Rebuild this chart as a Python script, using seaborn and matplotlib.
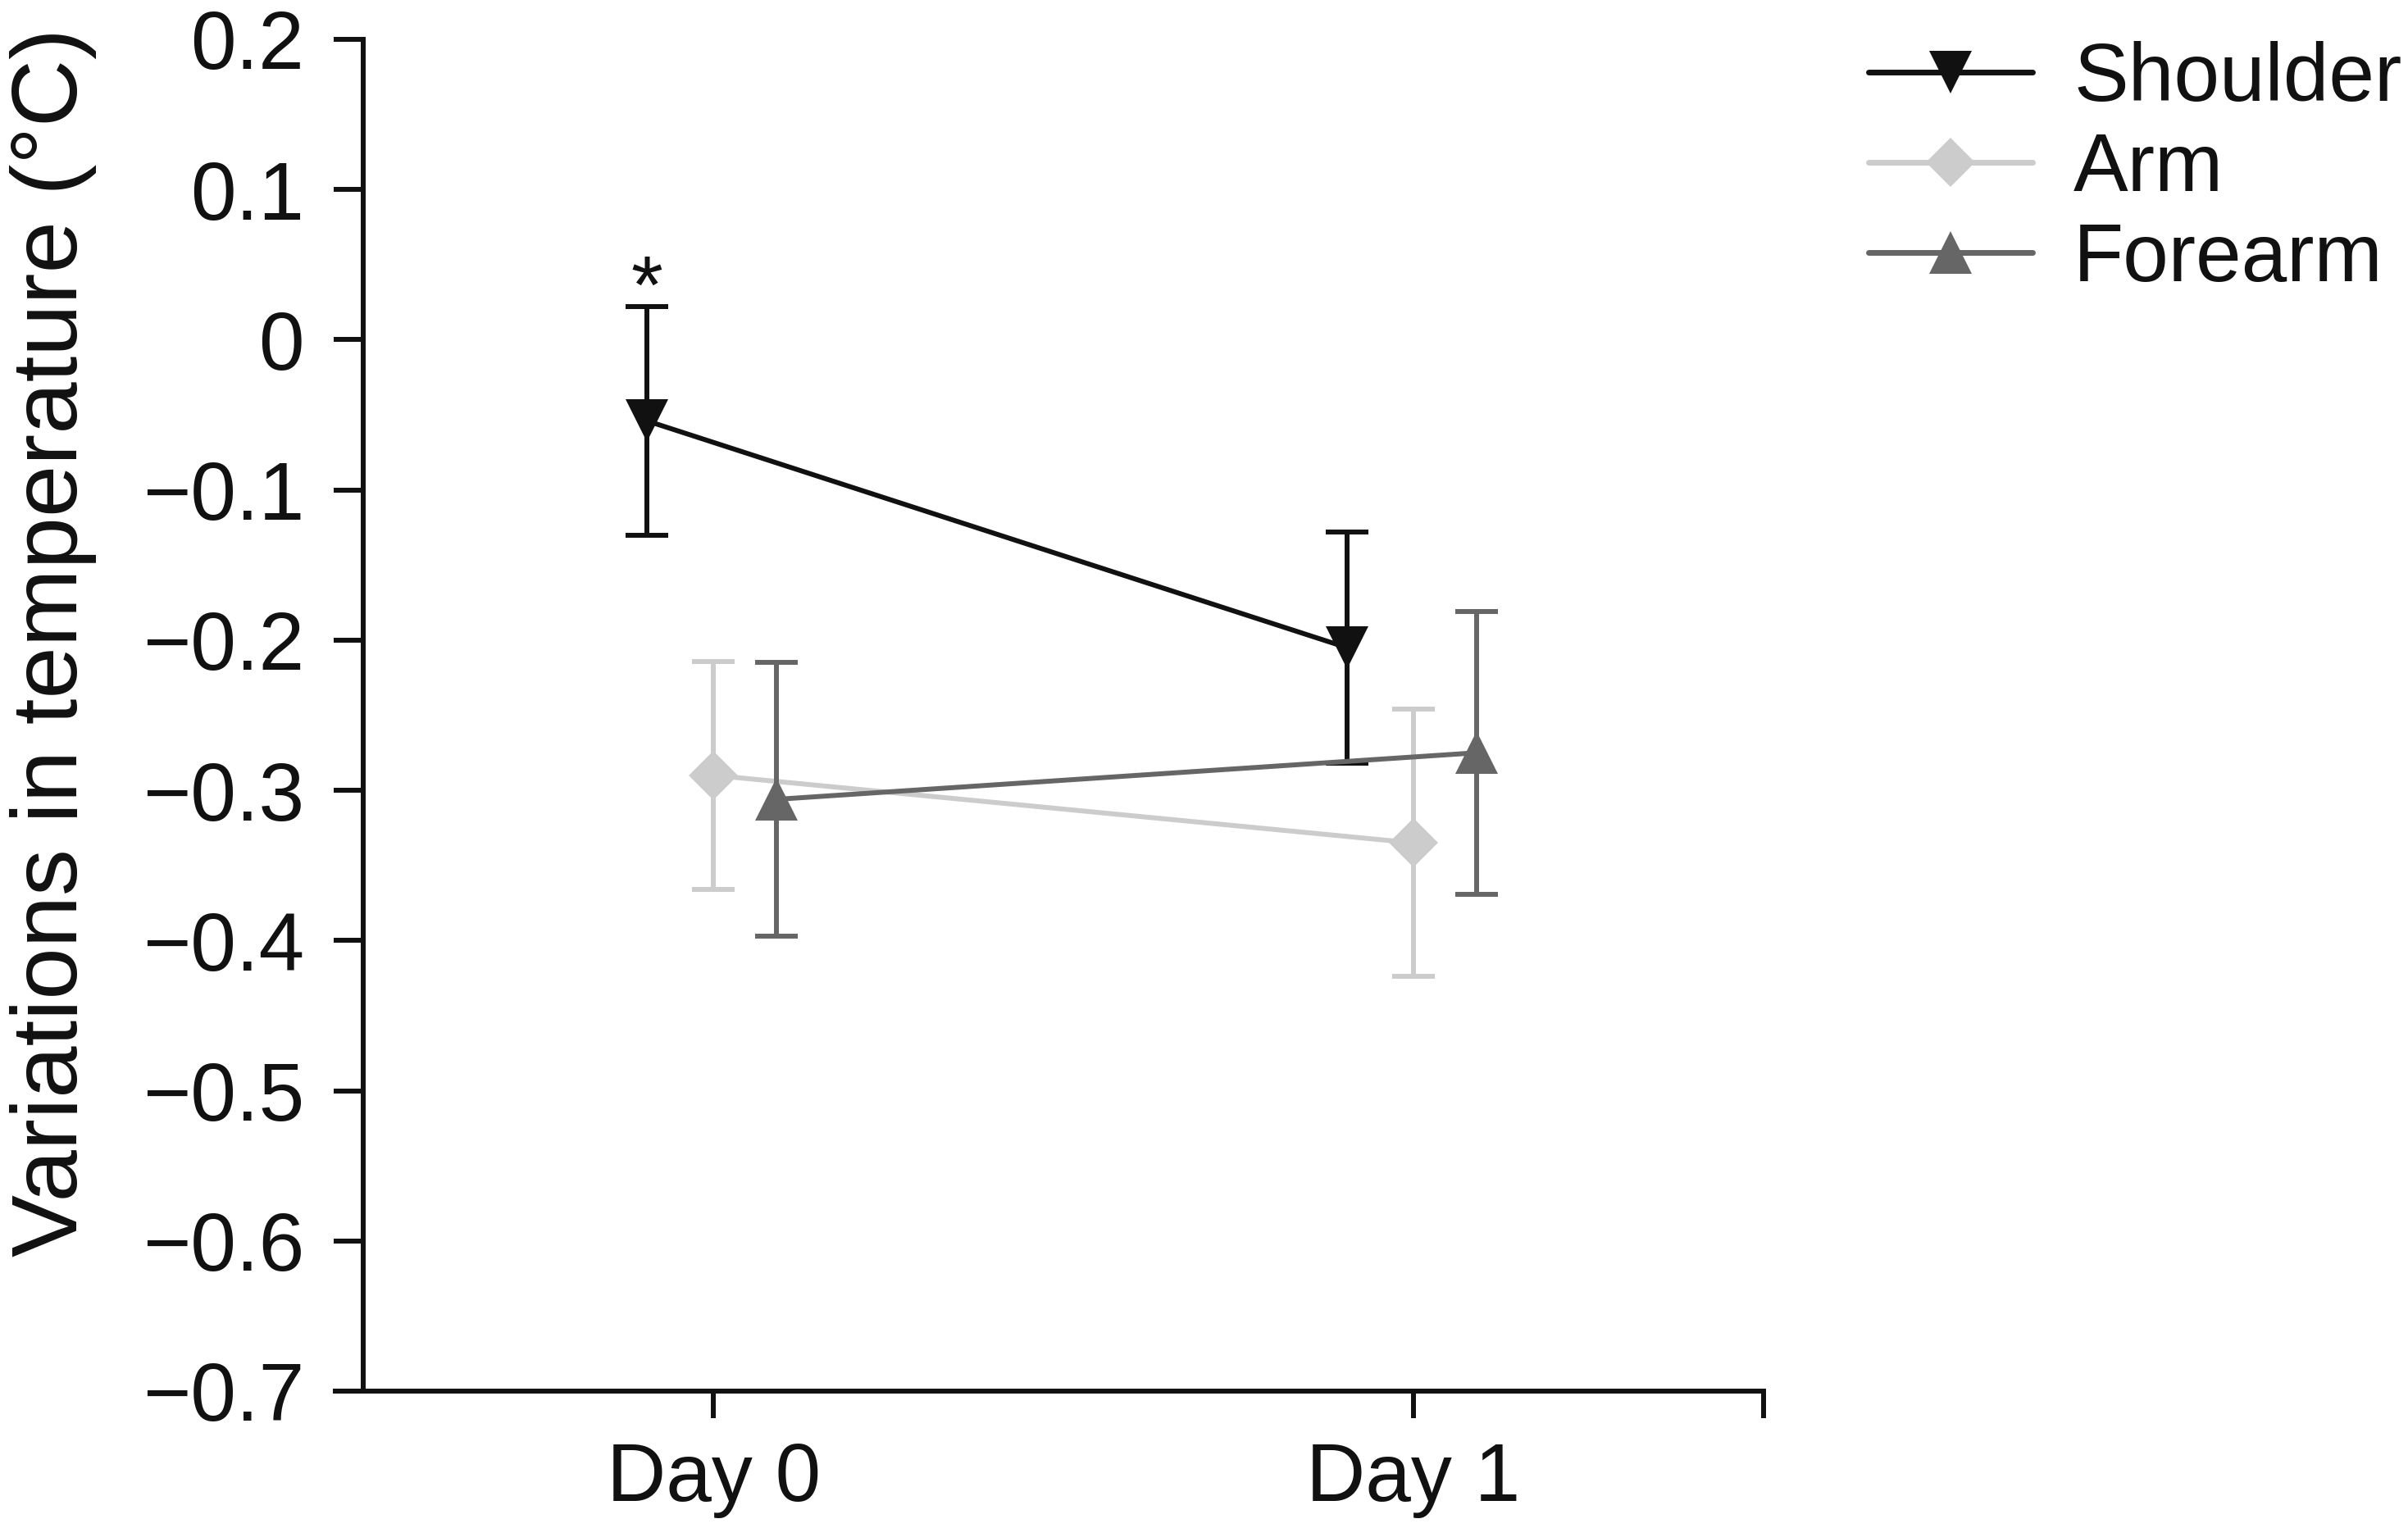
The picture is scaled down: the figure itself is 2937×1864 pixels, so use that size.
import matplotlib
matplotlib.use("Agg")
import matplotlib.pyplot as plt
from matplotlib.ticker import FuncFormatter
import seaborn as sns
import pandas as pd

# Mean variation in temperature (°C) and error (SEM)
days = ["Day 0", "Day 1"]
regions = ["Shoulder", "Arm", "Forearm"]
shoulder_mean = [-0.054, -0.205]
shoulder_err = [0.076, 0.077]
arm_mean = [-0.290, -0.335]
arm_err = [0.076, 0.089]
forearm_mean = [-0.306, -0.275]
forearm_err = [0.091, 0.094]
significant = {"Shoulder": [True, False]}

# styling
colors = {"Shoulder": "#111111", "Arm": "#cccccc", "Forearm": "#666666"}
markers = {"Shoulder": "v", "Arm": "D", "Forearm": "^"}
msizes = {"Shoulder": 38, "Arm": 31, "Forearm": 38}
dodge = {"Shoulder": -0.095, "Arm": 0.0, "Forearm": 0.09}

df = pd.DataFrame(
    {
        "day": days * 3,
        "day_idx": [0, 1] * 3,
        "region": [r for r in regions for _ in days],
        "mean": shoulder_mean + arm_mean + forearm_mean,
        "err": shoulder_err + arm_err + forearm_err,
    }
)
df["x"] = df["day_idx"] + df["region"].map(dodge)

sns.set_style("ticks")
plt.rcParams["font.family"] = ["Liberation Sans", "DejaVu Sans"]
plt.rcParams["axes.unicode_minus"] = True
ink = "#111111"
plt.rcParams.update({"text.color": ink, "axes.labelcolor": ink,
                     "xtick.color": ink, "ytick.color": ink})

W, H = 2937, 1864
fig = plt.figure(figsize=(W / 100, H / 100), dpi=100)
ax = fig.add_axes([409 / W, 1 - 1697 / H, (2151 - 409) / W, (1697 - 48) / H])

lw = 4.3
for reg in regions:
    sub = df[df["region"] == reg]
    ax.errorbar(
        sub["x"],
        sub["mean"],
        yerr=sub["err"],
        fmt="none",
        ecolor=colors[reg],
        elinewidth=lw,
        capsize=19,
        capthick=lw,
    )
    sns.lineplot(
        data=sub,
        x="x",
        y="mean",
        color=colors[reg],
        marker=markers[reg],
        markersize=msizes[reg],
        markeredgewidth=0,
        linewidth=lw,
        label=reg,
        ax=ax,
        sort=False,
    )
    # significance marks
    for flag, (_, row) in zip(significant.get(reg, []), sub.iterrows()):
        if flag:
            ax.text(row["x"], row["mean"] + row["err"] - 0.004, "*",
                    ha="center", va="baseline", fontsize=72, color=ink)

ax.set_ylim(-0.7, 0.2)
ax.set_yticks([0.2, 0.1, 0, -0.1, -0.2, -0.3, -0.4, -0.5, -0.6, -0.7])
ax.yaxis.set_major_formatter(FuncFormatter(lambda v, p: f"{v:g}".replace("-", "\u2212")))
ax.set_xlim(-0.54, 1.5)
ax.set_xticks([0, 1, 1.5])
ax.set_xticklabels(days + [""])
ax.spines["left"].set_position(("data", -0.5))
sns.despine(ax=ax)
for s in ["left", "bottom"]:
    ax.spines[s].set_linewidth(4.3)
    ax.spines[s].set_color(ink)
ax.tick_params(axis="y", length=26, width=4.3, pad=26, labelsize=72)
ax.tick_params(axis="x", length=24, width=4.3, pad=20, labelsize=72)

ax.set_xlabel("")
ax.set_ylabel("Variations in temperature (\u00b0C)", fontsize=82)
ax.yaxis.set_label_coords(-0.167, 0.554)

leg = ax.legend(
    loc="upper left",
    bbox_to_anchor=(2279 / W, 1 - 50 / H),
    bbox_transform=fig.transFigure,
    frameon=False,
    fontsize=72,
    handlelength=2.0,
    handletextpad=0.5,
    labelspacing=0.16,
    borderpad=0,
    borderaxespad=0,
    numpoints=1,
)
for line in leg.get_lines():
    line.set_linewidth(5)

fig.savefig("out.png", dpi=100, facecolor="white")
